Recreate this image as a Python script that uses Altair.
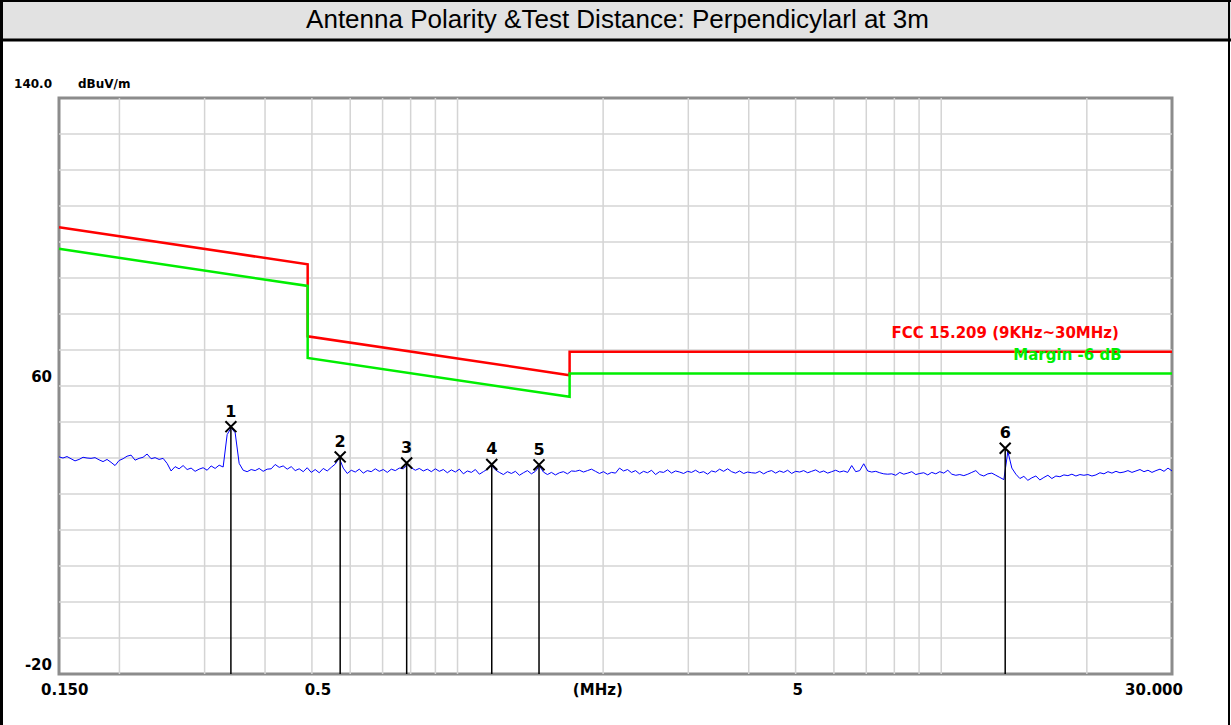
import altair as alt
import numpy as np
import pandas as pd

TITLE = "Antenna Polarity &Test Distance: Perpendicylarl at 3m"
UNIT_Y = "dBuV/m"
TOP_Y = "140.0"

sweep_f = np.geomspace(0.15, 30.0, 279)
sweep_dB = [
    40.3, 40.0, 40.4, 39.8, 39.2, 39.6, 40.2, 40.0, 39.9, 40.1,
    39.5, 39.0, 39.6, 38.8, 37.9, 39.3, 39.8, 40.5, 40.8, 39.4,
    39.9, 40.2, 41.1, 39.8, 40.1, 39.6, 39.9, 38.5, 36.4, 37.6,
    37.0, 37.9, 36.8, 37.2, 36.3, 36.9, 37.3, 36.6, 37.8, 37.1,
    38.0, 37.5, 46.5, 48.4, 47.0, 38.5, 36.6, 36.2, 36.8, 36.5,
    37.1, 36.3, 36.9, 37.0, 38.2, 37.4, 37.8, 36.9, 37.6, 36.5,
    37.0, 36.2, 37.3, 36.0, 36.8, 35.9, 37.1, 36.4, 37.4, 38.3,
    40.0, 37.2, 35.7, 36.6, 36.1, 36.9, 35.8, 36.5, 36.2, 37.0,
    36.3, 36.8, 36.0, 36.9, 36.5, 37.2, 37.0, 38.1, 37.3, 36.6,
    37.1, 36.4, 36.9, 36.2, 37.0, 36.3, 36.8, 35.9, 36.7, 36.1,
    36.9, 35.6, 36.4, 36.0, 36.8, 35.5, 36.2, 36.9, 38.0, 36.7,
    36.0, 35.4, 36.2, 35.7, 36.3, 35.2, 35.9, 36.5, 35.6, 36.3,
    37.8, 36.1, 35.4, 36.0, 35.3, 35.9, 36.2, 35.6, 36.4, 36.3,
    36.6, 36.1, 36.5, 36.9, 36.3, 35.7, 36.2, 35.5, 36.0, 35.8,
    37.2, 36.4, 36.8, 36.0, 36.5, 35.6, 36.3, 35.9, 36.6, 35.4,
    36.2, 36.0, 36.7, 35.8, 36.4, 36.1, 35.7, 36.3, 36.0, 36.6,
    35.9, 36.2, 35.5, 36.4, 36.1, 36.9, 36.3, 37.0, 36.2, 35.8,
    36.4, 35.7, 36.1, 35.9, 35.8, 36.3, 35.6, 36.2, 36.5, 35.8,
    36.4, 36.0, 36.6, 35.7, 36.3, 36.1, 36.5, 35.9, 36.3, 36.7,
    36.0, 36.4, 35.8, 36.2, 36.6, 36.1, 36.4, 36.0, 37.9, 36.2,
    36.5, 38.4, 36.4, 36.1, 36.3, 35.9, 35.6, 35.5, 35.6, 35.2,
    36.0, 35.5, 35.8, 36.2, 35.4, 35.7, 35.9, 35.3, 36.0, 35.6,
    36.2, 35.8, 36.6, 35.5, 35.2, 35.4, 35.1, 35.5, 36.0, 36.5,
    35.4, 35.0, 35.6, 35.8, 35.2, 34.6, 34.0, 41.8, 37.2, 35.5,
    34.3, 34.9, 33.8, 34.5, 35.0, 33.9, 34.6, 35.2, 34.3, 35.0,
    34.8, 35.3, 35.1, 35.5, 35.0, 35.4, 35.2, 35.4, 35.0, 35.3,
    35.9, 35.6, 36.2, 35.8, 36.3, 35.9, 36.1, 36.5, 36.0, 36.4,
    36.8, 36.2, 36.6, 36.0, 36.5, 36.9, 36.3, 37.2, 36.4,
]

# limit line and margin line (step points)
limit_f = [0.15, 0.49, 0.49, 1.705, 1.705, 30.0]
limit_dB = [104.1, 93.8, 73.8, 63.0, 69.5, 69.5]
margin_dB = [98.1, 87.8, 67.8, 57.0, 63.5, 63.5]
limit_name = "FCC 15.209 (9KHz~30MHz)"
margin_name = "Margin -6 dB"

# marked peaks
marker_no = ["1", "2", "3", "4", "5", "6"]
marker_f = [0.340, 0.572, 0.785, 1.177, 1.474, 13.56]
marker_dB = [48.7, 40.3, 38.6, 38.2, 38.1, 42.7]

# grid and tick labels
grid_f = [0.2, 0.3, 0.4, 0.5, 0.6, 0.7, 0.8, 0.9, 1, 2, 3, 4, 5, 6, 7, 8, 9, 10, 20]
grid_dB = [-10, 0, 10, 20, 30, 40, 50, 60, 70, 80, 90, 100, 110, 120, 130]
x_tick_labels = ["0.150", "0.5", "(MHz)", "5", "30.000"]
x_tick_f = [0.15, 0.5, 1.95, 5.0, 30.0]
y_tick_labels = ["60", "-20"]
y_tick_dB = [60, -20]

W, H = 1113, 576
PL, PT, PR, PB = 59, 98, 59, 51
BOLD = "DejaVu Sans"

xs = alt.Scale(type="log", domain=[0.15, 30.0])
ys = alt.Scale(domain=[-20, 140], nice=False, zero=False)


def X(field="f"):
    return alt.X(f"{field}:Q", scale=xs, axis=None)


def Y(field="dB"):
    return alt.Y(f"{field}:Q", scale=ys, axis=None)


one = pd.DataFrame({"k": [0]})

# decorations outside plot
band = alt.Chart(one).mark_rect(fill="#e2e2e2").encode(
    x=alt.value(-PL), x2=alt.value(W + PR), y=alt.value(-PT), y2=alt.value(-58)
)
band_line = alt.Chart(one).mark_rule(color="black", strokeWidth=3).encode(
    x=alt.value(-PL), x2=alt.value(W + PR), y=alt.value(-58)
)
top_line = alt.Chart(one).mark_rule(color="black", strokeWidth=2).encode(
    x=alt.value(-PL), x2=alt.value(W + PR), y=alt.value(-PT + 1)
)
left_line = alt.Chart(one).mark_rule(color="black", strokeWidth=3).encode(
    x=alt.value(-PL + 1.5), y=alt.value(-PT), y2=alt.value(H + PB)
)
right_line = alt.Chart(one).mark_rule(color="black", strokeWidth=2).encode(
    x=alt.value(W + PR - 2), y=alt.value(-PT), y2=alt.value(H + PB)
)
title = alt.Chart(one).mark_text(
    font="Liberation Sans", fontSize=26, color="black", baseline="middle", align="center"
).encode(x=alt.value((W + PL + PR) / 2 - PL + 2), y=alt.value(-78), text=alt.datum(TITLE))

# grid
gv = alt.Chart(pd.DataFrame({"f": grid_f})).mark_rule(color="#d4d4d4", strokeWidth=1.5).encode(x=X())
gh = alt.Chart(pd.DataFrame({"dB": grid_dB})).mark_rule(color="#d4d4d4", strokeWidth=1.5).encode(y=Y())

lim_df = pd.DataFrame({"f": limit_f, "lim": limit_dB, "mar": margin_dB, "i": range(len(limit_f))})
red = alt.Chart(lim_df).mark_line(color="#ff0000", strokeWidth=2.5, interpolate="linear").encode(
    x=X(), y=Y("lim"), order="i:Q"
)
green = alt.Chart(lim_df).mark_line(color="#00ee00", strokeWidth=2.5).encode(
    x=X(), y=Y("mar"), order="i:Q"
)

trace_df = pd.DataFrame({"f": sweep_f, "dB": sweep_dB, "i": range(len(sweep_dB))})
trace = alt.Chart(trace_df).mark_line(color="#0000ff", strokeWidth=1).encode(x=X(), y=Y(), order="i:Q")

mk_df = pd.DataFrame({"f": marker_f, "dB": marker_dB, "n": marker_no, "low": [-20] * len(marker_f)})
mk_rule = alt.Chart(mk_df).mark_rule(color="black", strokeWidth=1.5).encode(x=X(), y=Y(), y2="low:Q")
mk_x = alt.Chart(mk_df).mark_point(
    shape="M -1 -1 L 1 1 M -1 1 L 1 -1", filled=False, color="black", strokeWidth=2, size=120, opacity=1
).encode(x=X(), y=Y())
mk_txt = alt.Chart(mk_df).mark_text(
    font=BOLD, fontWeight="bold", fontSize=16, color="black", baseline="middle", dy=-15
).encode(x=X(), y=Y(), text="n:N")

leg_df = pd.DataFrame({"f": [23.3, 23.6], "dB": [74.8, 68.6], "t": [limit_name, margin_name]})
leg_red = alt.Chart(leg_df.iloc[[0]]).mark_text(
    font=BOLD, fontWeight="bold", fontSize=15, color="#ff0000", align="right", baseline="middle"
).encode(x=X(), y=Y(), text="t:N")
leg_green = alt.Chart(leg_df.iloc[[1]]).mark_text(
    font=BOLD, fontWeight="bold", fontSize=15, color="#00ee00", align="right", baseline="middle"
).encode(x=X(), y=Y(), text="t:N")

# axis texts
xl = pd.DataFrame({"f": x_tick_f, "t": x_tick_labels, "low": [-20] * len(x_tick_f)})
x_label_style = [("left", -18), ("center", 6), ("center", 0), ("center", 2), ("right", 11)]
xlab_layers = []
for k, (al, dx) in enumerate(x_label_style):
    xlab_layers.append(
        alt.Chart(xl.iloc[[k]]).mark_text(
            font=BOLD, fontWeight="bold", fontSize=15, color="black", align=al, baseline="middle", dx=dx, dy=16
        ).encode(x=X(), y=Y("low"), text="t:N")
    )

yl = pd.DataFrame({"dB": y_tick_dB, "t": y_tick_labels})
ylab = alt.Chart(yl).mark_text(
    font=BOLD, fontWeight="bold", fontSize=15, color="black", align="right", baseline="bottom", dy=-1
).encode(x=alt.value(-7), y=Y(), text="t:N")
top_lab = alt.Chart(one).mark_text(
    font=BOLD, fontWeight="bold", fontSize=12, color="black", align="right", baseline="middle"
).encode(x=alt.value(-7), y=alt.value(-14), text=alt.datum(TOP_Y))
unit_lab = alt.Chart(one).mark_text(
    font=BOLD, fontWeight="bold", fontSize=12, color="black", align="left", baseline="middle"
).encode(x=alt.value(19), y=alt.value(-14), text=alt.datum(UNIT_Y))

chart = alt.layer(
    band, band_line, top_line, left_line, right_line, title,
    gv, gh, red, green, trace, mk_rule, mk_x, mk_txt, leg_red, leg_green,
    *xlab_layers, ylab, top_lab, unit_lab,
).properties(
    width=W, height=H,
    padding={"left": PL, "top": PT, "right": PR, "bottom": PB},
    autosize="none", background="white",
).configure_view(stroke="#8c8c8c", strokeWidth=3)

chart.save("out.html", embed_options={"renderer": "svg", "actions": False})
